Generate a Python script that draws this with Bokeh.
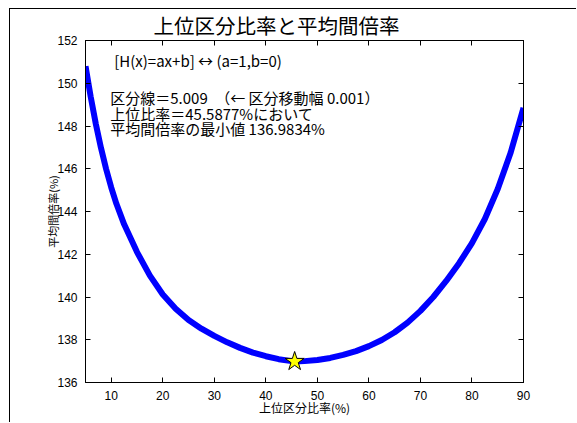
from bokeh.plotting import figure
from bokeh.models import Range1d, LinearAxis, SingleIntervalTicker, Label, ColumnDataSource, Title
from bokeh.layouts import column
from bokeh.embed import file_html
from bokeh.resources import INLINE

# ---- data ----
ratio = [5.009, 6.0, 7.0, 8.0, 9.0, 10.0, 11.0, 12.5, 15.0, 17.5, 20.0, 22.5, 25.0, 27.5,
         30.0, 32.5, 35.0, 37.5, 40.0, 42.5, 45.0, 45.5877, 47.5, 50.0, 52.5, 55.0, 57.5,
         60.0, 62.5, 65.0, 67.5, 70.0, 72.5, 75.0, 77.5, 80.0, 82.5, 85.0, 87.5, 90.0]
avg_rate = [150.80, 149.38, 148.10, 146.98, 145.99, 145.12, 144.36, 143.40, 142.10, 141.00,
            140.12, 139.45, 138.92, 138.52, 138.18, 137.88, 137.62, 137.40, 137.23, 137.09,
            137.00, 136.9834, 137.00, 137.05, 137.15, 137.29, 137.47, 137.70, 137.99, 138.35,
            138.80, 139.35, 140.00, 140.75, 141.58, 142.52, 143.65, 145.05, 146.75, 148.85]
min_x = [45.5877]
min_y = [136.9834]

title_text = "上位区分比率と平均間倍率"
xlabel_text = "上位区分比率(%)"
ylabel_text = "平均間倍率(%)"
info_lines = ["[H(x)=ax+b] ↔ (a=1,b=0)",
              "区分線＝5.009　（← 区分移動幅 0.001）",
              "上位比率＝45.5877%において",
              "平均間倍率の最小値 136.9834%"]

JP = "Noto Sans CJK JP"
NUM = "Liberation Sans"

p = figure(width=566, height=413, output_backend="svg", toolbar_location=None,
           x_range=Range1d(5, 90), y_range=Range1d(136, 152),
           min_border_left=75, min_border_right=53, min_border_top=31, min_border_bottom=40)
p.title = Title(text=title_text, text_font=JP, text_font_size="20.5px", text_font_style="normal",
                align="left", offset=68, standoff=-6, text_color="black")
p.background_fill_color = "white"
p.border_fill_color = "white"
p.outline_line_color = "black"
p.xgrid.grid_line_color = None
p.ygrid.grid_line_color = None

for ax, tk in ((p.xaxis[0], 10), (p.yaxis[0], 2)):
    ax.ticker = SingleIntervalTicker(interval=tk)
    ax.major_tick_in = 5
    ax.major_tick_out = 0
    ax.minor_tick_line_color = None
    ax.axis_line_color = "black"
    ax.major_tick_line_color = "black"
    ax.major_label_text_font = NUM
    ax.major_label_text_font_size = "12px"
    ax.major_label_text_color = "black"
    ax.major_label_standoff = 4
    ax.axis_label_text_font = JP
    ax.axis_label_text_font_style = "normal"
    ax.axis_label_text_color = "black"

p.xaxis[0].axis_label = xlabel_text
p.xaxis[0].axis_label_text_font_size = "12px"
p.xaxis[0].axis_label_standoff = -4
p.yaxis[0].axis_label = ylabel_text
p.yaxis[0].axis_label_text_font_size = "11px"
p.yaxis[0].axis_label_standoff = -7

for loc, tk in (("above", 10), ("right", 2)):
    ax = LinearAxis(ticker=SingleIntervalTicker(interval=tk), major_tick_in=5, major_tick_out=0,
                    minor_tick_line_color=None, axis_line_color="black",
                    major_label_text_color=None, major_label_text_font_size="1px",
                    major_label_standoff=0)
    p.add_layout(ax, loc)

src = ColumnDataSource(dict(x=ratio, y=avg_rate))
p.line("x", "y", source=src, line_color="#0000ff", line_width=6)
p.scatter(min_x, min_y, marker="star", size=20, fill_color="#ffff00", line_color="black", line_width=1)

info_pos = [(10.58, 151.05, "15px"), (9.8, 149.33, "15px"), (9.8, 148.58, "15px"), (9.8, 147.88, "15px")]
for t, (x, y, fs) in zip(info_lines, info_pos):
    p.add_layout(Label(x=x, y=y, text=t, text_font=JP, text_font_size=fs,
                       text_align="left", text_baseline="middle", text_color="black"))

layout = column(p, styles={"border-left": "1px solid black", "border-top": "1px solid black",
                           "margin-left": "9px", "margin-top": "8px"})
open("out.html", "w").write(file_html(layout, INLINE))
